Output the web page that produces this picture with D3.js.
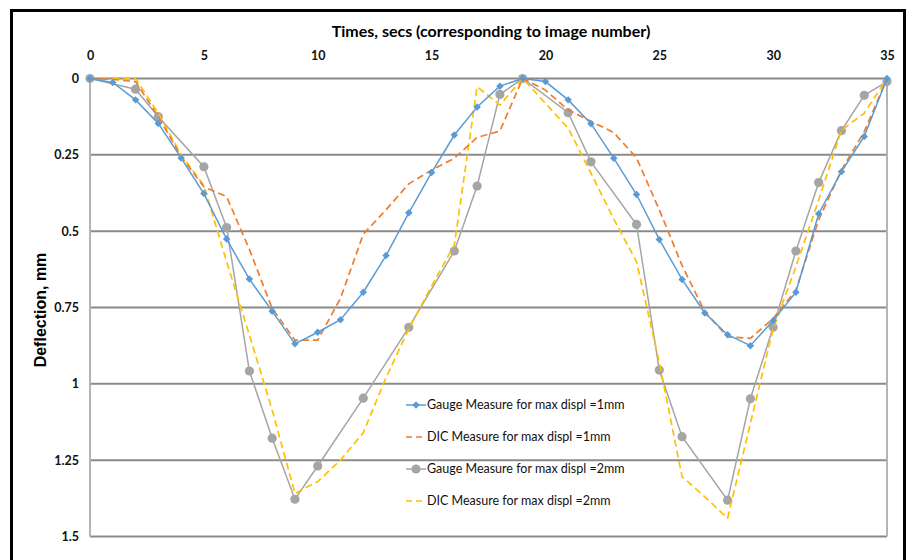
<!DOCTYPE html>
<html>
<head>
<meta charset="utf-8">
<script src="https://cdn.jsdelivr.net/npm/d3@7"></script>
<style>
  html, body { margin: 0; padding: 0; background: #fff; }
  svg { display: block; font-family: Lato, "Open Sans", sans-serif; }
</style>
</head>
<body>
<svg id="chart" width="909" height="560"></svg>
<script>
"use strict";

// time axis (image number)
var times = d3.range(0, 36);
var xTicks = [0, 5, 10, 15, 20, 25, 30, 35];
var yTicks = [0, 0.25, 0.5, 0.75, 1, 1.25, 1.5];

// deflection values, mm
var gauge1 = [0, 0.013, 0.07, 0.147, 0.26, 0.377, 0.526, 0.657, 0.762, 0.869, 0.831, 0.79,
  0.70, 0.58, 0.44, 0.308, 0.185, 0.093, 0.025, 0, 0.01, 0.07, 0.148, 0.261, 0.38, 0.527,
  0.658, 0.768, 0.839, 0.875, 0.793, 0.70, 0.443, 0.305, 0.19, 0];
var dic1 = [0, 0.003, 0.01, 0.125, 0.255, 0.355, 0.387, 0.56, 0.753, 0.857, 0.857, 0.72,
  0.51, 0.43, 0.345, 0.30, 0.261, 0.193, 0.172, 0, 0.038, 0.103, 0.14, 0.177, 0.26, 0.43,
  0.612, 0.764, 0.846, 0.851, 0.786, 0.693, 0.463, 0.30, 0.174, 0];
// the 2mm gauge series has no reading at some images
var gauge2Times = [0, 2, 3, 5, 6, 7, 8, 9, 10, 12, 14, 16, 17, 18, 19, 21, 22, 24, 25, 26,
  28, 29, 30, 31, 32, 33, 34, 35];
var gauge2 = [0, 0.035, 0.125, 0.289, 0.488, 0.958, 1.178, 1.378, 1.269, 1.047, 0.815,
  0.565, 0.352, 0.052, 0, 0.112, 0.273, 0.478, 0.955, 1.173, 1.381, 1.049, 0.815, 0.565,
  0.341, 0.171, 0.055, 0.01];
var dic2 = [0, 0, 0, 0.114, 0.25, 0.35, 0.60, 0.84, 1.086, 1.359, 1.32, 1.25, 1.16, 0.98,
  0.82, 0.68, 0.545, 0.027, 0.087, 0, 0.081, 0.163, 0.31, 0.46, 0.60, 0.93, 1.304, 1.37,
  1.44, 1.13, 0.82, 0.616, 0.398, 0.169, 0.114, 0];

var seriesNames = [
  "Gauge Measure for max displ =1mm",
  "DIC Measure for max displ =1mm",
  "Gauge Measure for max displ =2mm",
  "DIC Measure for max displ =2mm"
];
var seriesColors = ["#5b9bd5", "#ed7d31", "#a5a5a5", "#ffc000"];

var zip = function(xs, ys) {
  return xs.map(function(x, i) { return { t: x, v: ys[i] }; });
};

var series = [
  { name: seriesNames[0], color: seriesColors[0], dashed: false, marker: "diamond", data: zip(times, gauge1) },
  { name: seriesNames[1], color: seriesColors[1], dashed: true, marker: null, data: zip(times, dic1) },
  { name: seriesNames[2], color: seriesColors[2], dashed: false, marker: "circle", data: zip(gauge2Times, gauge2) },
  { name: seriesNames[3], color: seriesColors[3], dashed: true, marker: null, data: zip(times, dic2) }
];

var svg = d3.select("#chart");

// outer frame
svg.append("rect")
  .attr("x", 11.5).attr("y", 10.5)
  .attr("width", 893).attr("height", 570)
  .attr("fill", "none")
  .attr("stroke", "#000")
  .attr("stroke-width", 3);

var x = d3.scaleLinear().domain([0, 35]).range([90, 887]);
var y = d3.scaleLinear().domain([0, 1.5]).range([78.5, 536.5]);

// horizontal gridlines
svg.append("g").selectAll("line")
  .data(yTicks)
  .enter().append("line")
  .attr("x1", x(0)).attr("x2", x(35))
  .attr("y1", function(d) { return y(d); })
  .attr("y2", function(d) { return y(d); })
  .attr("stroke", "#8a8a8a")
  .attr("stroke-width", 2);

// side axis lines
svg.append("g").selectAll("line")
  .data([0, 35])
  .enter().append("line")
  .attr("x1", function(d) { return x(d); })
  .attr("x2", function(d) { return x(d); })
  .attr("y1", y(0)).attr("y2", y(1.5))
  .attr("stroke", "#b4b4b4")
  .attr("stroke-width", 2);

// top axis labels
var xAxis = d3.axisTop(x).tickValues(xTicks).tickSize(0).tickPadding(0);
var gx = svg.append("g").attr("transform", "translate(0,60)").call(xAxis);
gx.select(".domain").remove();
gx.selectAll("text")
  .attr("font-family", "Lato, sans-serif")
  .attr("font-size", 12.5)
  .attr("font-weight", "bold")
  .attr("fill", "#111");

// left axis labels
var yAxis = d3.axisLeft(y).tickValues(yTicks).tickSize(0).tickPadding(0)
  .tickFormat(function(d) { return String(d); });
var gy = svg.append("g").attr("transform", "translate(79,0)").call(yAxis);
gy.select(".domain").remove();
gy.selectAll("text")
  .attr("font-family", "Lato, sans-serif")
  .attr("font-size", 12.5)
  .attr("font-weight", "bold")
  .attr("fill", "#111");

// axis titles
svg.append("text")
  .attr("x", 491).attr("y", 37)
  .attr("text-anchor", "middle")
  .attr("font-size", 16)
  .attr("font-weight", "bold")
  .attr("fill", "#000")
  .text("Times, secs (corresponding to image number)");

svg.append("text")
  .attr("transform", "translate(46,310) rotate(-90)")
  .attr("text-anchor", "middle")
  .attr("font-family", "'Liberation Sans', Arial, sans-serif")
  .attr("font-size", 16)
  .attr("font-weight", "bold")
  .attr("fill", "#000")
  .text("Deflection, mm");

var line = d3.line()
  .x(function(d) { return x(d.t); })
  .y(function(d) { return y(d.v); });

var diamond = d3.symbol().type(d3.symbolSquare).size(28);

var drawMarkers = function(g, s, pts) {
  if (s.marker === "diamond") {
    g.selectAll("path.mk").data(pts).enter().append("path")
      .attr("class", "mk")
      .attr("d", diamond)
      .attr("transform", function(d) { return "translate(" + d[0] + "," + d[1] + ") rotate(45)"; })
      .attr("fill", s.color);
  } else if (s.marker === "circle") {
    g.selectAll("circle.mk").data(pts).enter().append("circle")
      .attr("class", "mk")
      .attr("cx", function(d) { return d[0]; })
      .attr("cy", function(d) { return d[1]; })
      .attr("r", 4.6)
      .attr("fill", s.color);
  }
};

// draw order: gray, yellow, orange, blue on top
[2, 3, 1, 0].forEach(function(k) {
  var s = series[k];
  var g = svg.append("g");
  g.append("path")
    .attr("d", line(s.data))
    .attr("fill", "none")
    .attr("stroke", s.color)
    .attr("stroke-width", s.dashed ? 1.7 : 1.5)
    .attr("stroke-dasharray", s.dashed ? "7,4" : null);
  drawMarkers(g, s, s.data.map(function(d) { return [x(d.t), y(d.v)]; }));
});

// legend
var legendY = [405, 437, 469, 501];
var legend = svg.append("g");
series.forEach(function(s, i) {
  var g = legend.append("g").attr("transform", "translate(0," + legendY[i] + ")");
  g.append("line")
    .attr("x1", 406).attr("x2", 426)
    .attr("stroke", s.color)
    .attr("stroke-width", s.dashed ? 1.7 : 1.5)
    .attr("stroke-dasharray", s.dashed ? "6,4" : null);
  drawMarkers(g, s, [[416, 0]]);
  g.append("text")
    .attr("x", 427).attr("y", 0)
    .attr("dy", "0.35em")
    .attr("font-size", 12.5)
    .attr("fill", "#111")
    .text(s.name);
});
</script>
</body>
</html>
